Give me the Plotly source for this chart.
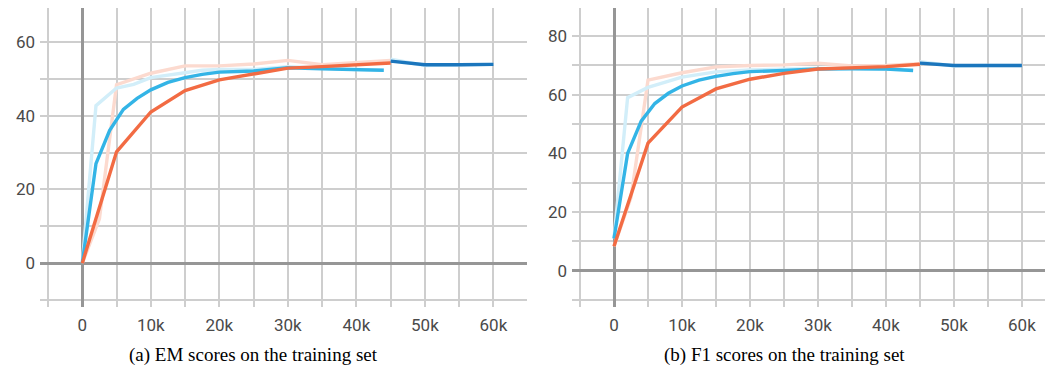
import plotly.graph_objects as go

# ---------------- data ----------------
# (a) EM scores
em_orange_steps = [0, 5000, 10000, 15000, 20000, 25000, 30000, 35000, 40000, 45000]
em_orange = [0, 30.2, 41.0, 46.8, 49.7, 51.4, 52.9, 53.3, 53.7, 54.3]
em_orange_raw_steps = [0, 2500, 5000, 10000, 15000, 20000, 25000, 30000, 35000, 40000, 45000]
em_orange_raw = [0, 12.0, 48.4, 51.5, 53.5, 53.5, 54.0, 55.0, 53.8, 54.3, 55.0]

em_blue_steps = [0, 2000, 4000, 6000, 8000, 10000, 12500, 15000, 17500, 20000, 25000, 30000, 35000, 40000, 44000]
em_blue = [0, 27.0, 36.0, 41.7, 44.7, 47.0, 49.0, 50.3, 51.2, 51.8, 52.1, 53.0, 52.7, 52.5, 52.3]
em_blue_raw_steps = [0, 2000, 5000, 7500, 10000, 15000, 17500, 20000, 25000, 30000, 35000, 40000, 44000]
em_blue_raw = [0, 42.7, 47.5, 48.5, 50.3, 51.5, 52.3, 52.5, 52.5, 53.3, 52.8, 52.5, 52.3]

em_dark_steps = [45000, 50000, 55000, 60000]
em_dark = [54.8, 53.8, 53.8, 53.9]
em_dark_raw = [55.3, 53.6, 53.8, 53.9]

# (b) F1 scores
f1_orange_steps = [0, 5000, 10000, 15000, 20000, 25000, 30000, 35000, 40000, 45000]
f1_orange = [8.3, 43.5, 55.8, 62.0, 65.3, 67.3, 68.8, 69.2, 69.6, 70.4]
f1_orange_raw_steps = [0, 2500, 5000, 10000, 15000, 20000, 25000, 30000, 35000, 40000, 45000]
f1_orange_raw = [8.3, 25.0, 65.0, 67.5, 69.5, 70.0, 70.2, 70.8, 69.8, 70.0, 70.6]

f1_blue_steps = [0, 2000, 4000, 6000, 8000, 10000, 12500, 15000, 17500, 20000, 25000, 30000, 35000, 40000, 44000]
f1_blue = [11.0, 40.0, 51.0, 57.0, 60.5, 63.0, 65.0, 66.3, 67.2, 67.9, 68.3, 68.8, 68.9, 68.8, 68.3]
f1_blue_raw_steps = [0, 2000, 5000, 10000, 15000, 20000, 25000, 30000, 35000, 40000, 44000]
f1_blue_raw = [11.0, 59.0, 62.5, 66.0, 67.8, 68.5, 68.7, 69.0, 69.0, 68.8, 68.5]

f1_dark_steps = [45000, 50000, 55000, 60000]
f1_dark = [70.8, 70.0, 70.0, 70.0]
f1_dark_raw = [71.3, 69.8, 70.0, 70.0]

x_tickvals = [-5000, 0, 5000, 10000, 15000, 20000, 25000, 30000, 35000, 40000, 45000, 50000, 55000, 60000]
x_ticktext = ["", "0", "", "10k", "", "20k", "", "30k", "", "40k", "", "50k", "", "60k"]
em_tickvals = [-10, 0, 10, 20, 30, 40, 50, 60]
em_ticktext = ["", "0", "", "20", "", "40", "", "60"]
f1_tickvals = [-10, 0, 10, 20, 30, 40, 50, 60, 70, 80]
f1_ticktext = ["", "0", "", "20", "", "40", "", "60", "", "80"]

captions = ["(a) EM scores on the training set", "(b) F1 scores on the training set"]

# ---------------- styles ----------------
ORANGE = "#f26b43"
BLUE = "#33b4e6"
DARK = "#1b76bd"
PINK_F = "#fcdacf"
BLUE_F = "#d2eef9"
W = 3.4

W_PX, H_PX = 1045, 375

fig = go.Figure()

def add_panel(xa, ya, o_s, o, orw_s, orw, b_s, b, brw_s, brw, d_s, d, drw):
    kw = dict(xaxis=xa, yaxis=ya, mode="lines", showlegend=False, hoverinfo="skip")
    fig.add_trace(go.Scatter(x=orw_s, y=orw, line=dict(color=PINK_F, width=W), **kw))
    fig.add_trace(go.Scatter(x=brw_s, y=brw, line=dict(color=BLUE_F, width=W), **kw))
    fig.add_trace(go.Scatter(x=d_s, y=drw, line=dict(color=BLUE_F, width=W), **kw))
    fig.add_trace(go.Scatter(x=b_s, y=b, line=dict(color=BLUE, width=W), **kw))
    fig.add_trace(go.Scatter(x=o_s, y=o, line=dict(color=ORANGE, width=W), **kw))
    fig.add_trace(go.Scatter(x=d_s, y=d, line=dict(color=DARK, width=W), **kw))

add_panel("x", "y", em_orange_steps, em_orange, em_orange_raw_steps, em_orange_raw,
          em_blue_steps, em_blue, em_blue_raw_steps, em_blue_raw, em_dark_steps, em_dark, em_dark_raw)
add_panel("x2", "y2", f1_orange_steps, f1_orange, f1_orange_raw_steps, f1_orange_raw,
          f1_blue_steps, f1_blue, f1_blue_raw_steps, f1_blue_raw, f1_dark_steps, f1_dark, f1_dark_raw)

tickfont = dict(family="Roboto, Liberation Sans, sans-serif", size=17, color="#4a4a4a")
grid = dict(showgrid=True, gridcolor="#cecece", gridwidth=2, zeroline=True,
            zerolinecolor="#969696", zerolinewidth=2.5, showline=False, ticks="",
            tickfont=tickfont, fixedrange=True, automargin=False)

top = 1 - 8 / H_PX
bottom = 1 - 307 / H_PX

fig.update_layout(
    width=W_PX, height=H_PX,
    margin=dict(l=0, r=0, t=0, b=0, autoexpand=False),
    paper_bgcolor="white", plot_bgcolor="white",
    xaxis=dict(domain=[40 / W_PX, 527 / W_PX], range=[-6170, 64900], anchor="y",
               tickvals=x_tickvals, ticktext=x_ticktext, ticklabelstandoff=6, **grid),
    yaxis=dict(domain=[bottom, top], range=[-11.9, 69.2], anchor="x",
               tickvals=em_tickvals, ticktext=em_ticktext, ticklabelstandoff=4, **grid),
    xaxis2=dict(domain=[572 / W_PX, 1.0], range=[-6180, 63400], anchor="y2",
                tickvals=x_tickvals, ticktext=x_ticktext, ticklabelstandoff=6, **grid),
    yaxis2=dict(domain=[bottom, top], range=[-12.4, 89.6], anchor="x2",
                tickvals=f1_tickvals, ticktext=f1_ticktext, ticklabelstandoff=4, **grid),
)

capfont = dict(family="Liberation Serif, Times New Roman, serif", size=19, color="black")
fig.add_annotation(text=captions[0], x=253 / W_PX, y=1 - 355 / H_PX, xref="paper", yref="paper",
                   showarrow=False, font=capfont, xanchor="center", yanchor="middle")
fig.add_annotation(text=captions[1], x=784 / W_PX, y=1 - 355 / H_PX, xref="paper", yref="paper",
                   showarrow=False, font=capfont, xanchor="center", yanchor="middle")

fig.write_html("out.html", config={"displayModeBar": False},
               post_script="document.body.style.margin='0px';document.body.style.overflow='hidden';")
